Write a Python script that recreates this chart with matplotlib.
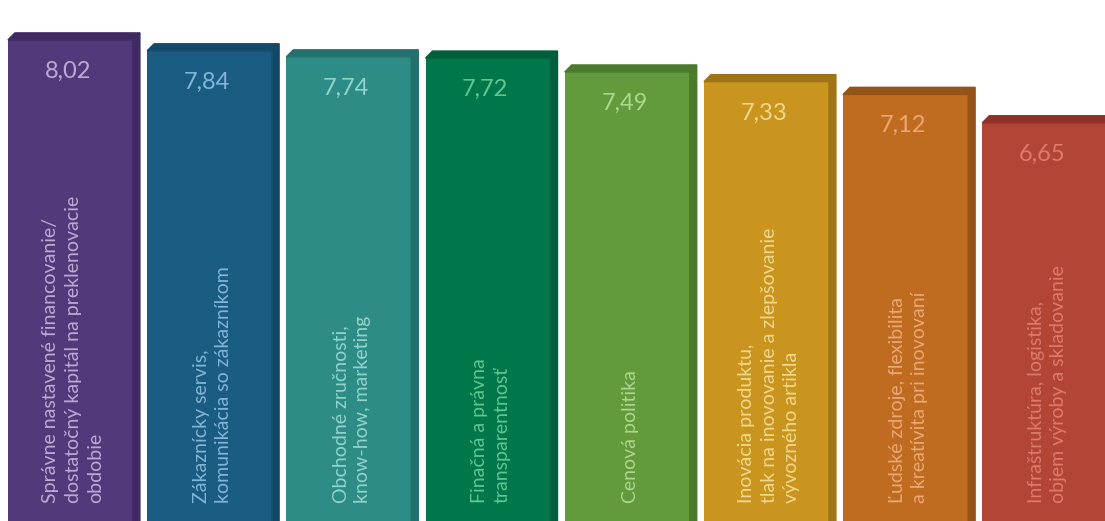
import numpy as np
import matplotlib
matplotlib.use("Agg")
import matplotlib.pyplot as plt

labels = [
    "Správne nastavené financovanie/\ndostatočný kapitál na preklenovacie\nobdobie",
    "Zákaznícky servis,\nkomunikácia so zákazníkom",
    "Obchodné zručnosti,\nknow-how, marketing",
    "Finačná a právna\ntransparentnosť",
    "Cenová politika",
    "Inovácia produktu,\ntlak na inovovanie a zlepšovanie\nvývozného artikla",
    "Ľudské zdroje, flexibilita\na kreatívita pri inovovaní",
    "Infraštruktúra, logistika,\nobjem výroby a skladovanie",
]
values = [8.02, 7.84, 7.74, 7.72, 7.49, 7.33, 7.12, 6.65]
value_text = ["8,02", "7,84", "7,74", "7,72", "7,49", "7,33", "7,12", "6,65"]

front = ["#523a7a", "#1b5c82", "#2e8c87", "#00774a", "#629a3c", "#c9951f", "#c06c20", "#b34537"]
side = ["#3f2a63", "#12496a", "#22716d", "#005f3a", "#4a7a2e", "#9e7416", "#95531a", "#8c3028"]
text_col = ["#bcaad6", "#82b6d6", "#93d4ca", "#62c592", "#add68f", "#f3d88f", "#e9a874", "#dc7a6e"]

fig = plt.figure(figsize=(11.05, 5.21), dpi=100)
ax = fig.add_axes([0, 0, 1, 1])

x = np.arange(len(values))
w = 0.898
dx, dy = 0.05, 0.116

ax.bar(x, values, width=w, color=front, zorder=2)
for i, v in enumerate(values):
    x0, x1 = x[i] - w / 2, x[i] + w / 2
    # top face
    ax.fill([x0, x1, x1 + dx, x0 + dx], [v, v, v + dy, v + dy], color=side[i], zorder=2)
    # right side face
    ax.fill([x1, x1 + dx, x1 + dx, x1], [0, 0, v + dy, v], color=side[i], zorder=2)
    ax.text(x[i] - 0.02, v - 0.52, value_text[i], ha="center", va="center",
            fontsize=17, color=text_col[i], family="Lato", zorder=3)
    ax.text(x[i] + 0.02, 0.36, labels[i], rotation=90, ha="center", va="bottom",
            multialignment="left", fontsize=14, color=text_col[i],
            family="Lato", linespacing=1.38, zorder=3)

ax.set_xlim(-0.506, 7.432)
ax.set_ylim(0.066, 8.68)
ax.axis("off")

fig.savefig("out.png", dpi=100, facecolor="white")
